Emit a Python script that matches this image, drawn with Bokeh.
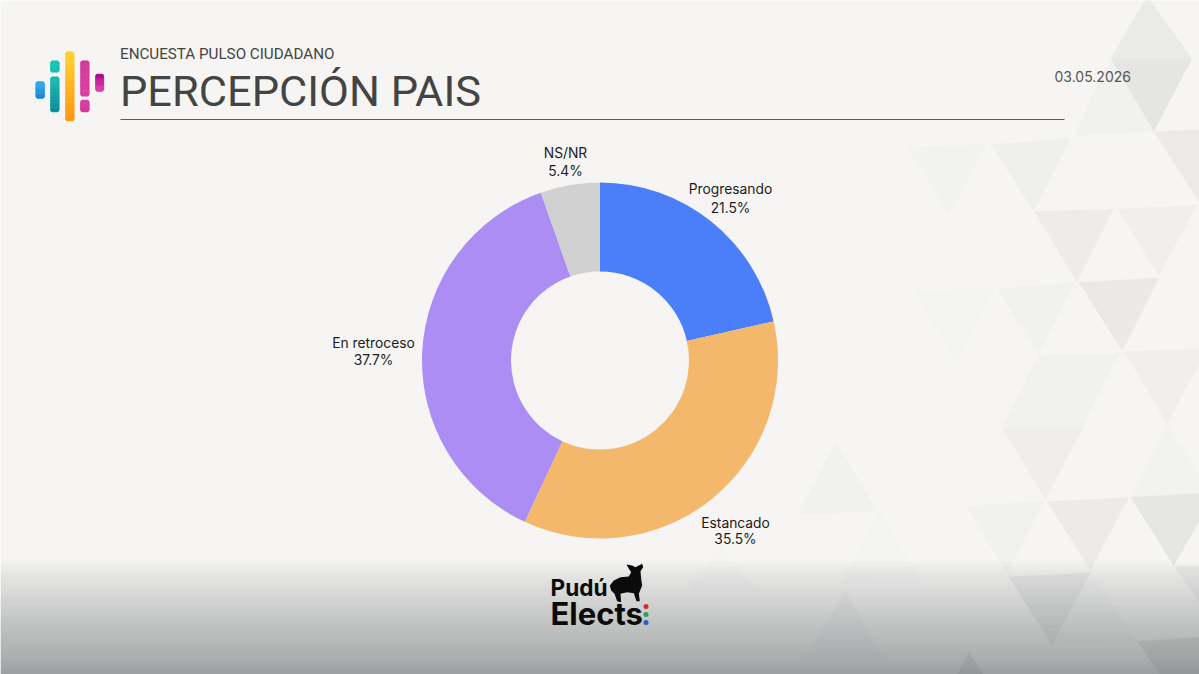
from bokeh.plotting import figure
from bokeh.models import ColumnDataSource, Range1d
from bokeh.core.properties import value
from bokeh.embed import file_html
from bokeh.resources import INLINE
import numpy as np

categories = ["Progresando", "Estancado", "En retroceso", "NS/NR"]
percentages = [21.5, 35.5, 37.7, 5.4]
slice_colors = ["#4a7ff9", "#f4b86d", "#ab8df4", "#d1d1d1"]

title = "PERCEPCIÓN PAIS"
subtitle = "ENCUESTA PULSO CIUDADANO"
date_label = "03.05.2026"

# label layout, in page pixels
label_x = [730, 735, 373, 565]
name_y = [188, 522, 342, 152]
pct_y = [207, 538, 359, 170]

BG = "#f6f5f3"
WIDTH, HEIGHT = 1199, 674


# all layout below is in page pixels, y counted from the top
def Y(py):
    return 674 - np.asarray(py, dtype=float)


p = figure(width=WIDTH, height=HEIGHT, x_range=Range1d(0, 1199), y_range=Range1d(0, 674),
           toolbar_location=None, output_backend="svg", min_border=0,
           background_fill_color=BG, border_fill_color=BG)
p.axis.visible = False
p.grid.visible = False
p.outline_line_color = None


def zx(v):
    return 880 + v / 3


def zy(v):
    return v * 0.43


def poly(points, color):
    xs = [zx(a) for a, b in points]
    ys = [Y(zy(b)) for a, b in points]
    p.patch(xs, ys, fill_color=color, line_color=None)


poly([(800, -10), (690, 135), (935, 135)], "#eaeae8")
poly([(690, 135), (935, 135), (820, 305)], "#e5e5e3")
poly([(580, 315), (690, 135), (820, 305)], "#f1f1ef")
poly([(80, 340), (320, 335), (205, 500)], "#f2f2f0")
poly([(330, 335), (570, 320), (460, 490)], "#efefed")
poly([(820, 305), (957, 300), (957, 470)], "#ebeae8")
poly([(460, 490), (700, 485), (590, 655)], "#eeecea")
poly([(710, 485), (950, 475), (835, 640)], "#f0efed")
poly([(100, 675), (340, 670), (225, 840)], "#f3f3f1")
poly([(350, 670), (585, 655), (475, 825)], "#f1f1ef")
poly([(595, 655), (835, 645), (725, 815)], "#ebe9e7")
poly([(475, 825), (720, 820), (610, 990), (365, 995)], "#f1f1ef")
poly([(365, 995), (610, 990), (495, 1160)], "#f0eeec")
poly([(730, 815), (957, 810), (957, 845), (860, 985)], "#f0efed")
poly([(860, 985), (957, 1100), (957, 1145), (750, 1155)], "#f2f2f0")
poly([(255, 1175), (490, 1165), (380, 1335)], "#f1f1ef")
poly([(500, 1165), (745, 1155), (630, 1325)], "#ecebe9")
poly([(750, 1155), (957, 1145), (957, 1210), (880, 1315)], "#e6e6e4")
poly([(385, 1340), (630, 1330), (515, 1500)], "#e8e8e6")
poly([(880, 1315), (957, 1315), (957, 1400)], "#ececea")
poly([(630, 1330), (770, 1490), (520, 1500)], "#f2f2f0")
poly([(770, 1490), (957, 1480), (957, 1568), (840, 1568)], "#e4e4e2")
poly([(265, 1515), (230, 1568), (310, 1568)], "#e4e4e2")
poly([(0, 1190), (120, 1345), (0, 1345)], "#f4f4f2")

# triangles lower down, centre of the page
p.patch([797, 835, 877], Y([514, 440, 511]), fill_color="#f1f1ef", line_color=None)
p.patch([877, 840, 920], Y([511, 583, 580]), fill_color="#f3f3f1", line_color=None)
p.patch([845, 805, 883], Y([590, 657, 657]), fill_color="#f0f0ef", line_color=None)
p.patch([720, 690, 755], Y([545, 590, 590]), fill_color="#f3f3f1", line_color=None)

# grey fade at the bottom of the page
fade_y = np.arange(556, 674, 1)
fade_a = np.interp(fade_y, [558, 570, 600, 630, 655, 674], [0, 0.07, 0.2, 0.33, 0.44, 0.56])
p.quad(left=0, right=1199, top=Y(fade_y), bottom=Y(fade_y + 1), fill_color="#3a4448",
       fill_alpha=fade_a, line_color=None)

# donut
fractions = np.array(percentages) / sum(percentages)
ends = np.cumsum(fractions)
starts = ends - fractions
source = ColumnDataSource(data=dict(
    category=categories,
    start=np.pi / 2 - 2 * np.pi * starts,
    end=np.pi / 2 - 2 * np.pi * ends,
    color=slice_colors,
))
p.annular_wedge(x=599.5, y=Y(360), inner_radius=89, outer_radius=178, start_angle="start",
                end_angle="end", direction="clock", fill_color="color", line_color=None,
                source=source)

labels = ColumnDataSource(data=dict(
    x=label_x,
    name_y=Y(name_y),
    pct_y=Y(pct_y),
    name=categories,
    pct=[f"{v}%" for v in percentages],
))
for col, txt in (("name_y", "name"), ("pct_y", "pct")):
    p.text(x="x", y=col, text=txt, source=labels, text_align="center", text_baseline="middle",
           text_font=value("Inter"), text_font_size="13.8px", text_color="#1c1c1c")


# header logo: rounded bars with a vertical colour fade
def hex_rgb(c):
    return np.array([int(c[i:i + 2], 16) for i in (1, 3, 5)], dtype=float)


def bar(x0, x1, y0, y1, c0, c1, n=12):
    edges = np.linspace(y0 + 2, y1 - 2, n + 1)
    cols = []
    for t in np.linspace(0, 1, n):
        rgb = hex_rgb(c0) * (1 - t) + hex_rgb(c1) * t
        cols.append("#%02x%02x%02x" % tuple(int(v) for v in rgb))
    # squared-off ends with a small radius
    p.quad(left=x0 + 2, right=x1 - 2, top=Y([y0, y1 - 2.2]), bottom=Y([y0 + 2.2, y1]),
           fill_color=[c0, c1], line_color=None)
    cx = [x0 + 2, x1 - 2, x0 + 2, x1 - 2]
    cy = [y0 + 2, y0 + 2, y1 - 2, y1 - 2]
    p.circle(x=cx, y=Y(cy), radius=2, fill_color=[c0, c0, c1, c1], line_color=None)
    # slices drawn from the bottom up, each reaching under the one above
    p.quad(left=x0, right=x1, top=Y(edges[:-1][::-1]), bottom=Y(edges[1:][::-1]),
           fill_color=cols[::-1], line_color=cols[::-1], line_width=0.6)


bar(35.3, 44, 80.7, 98.3, "#2fa8ea", "#1c88d0")
bar(50, 58.7, 60, 72, "#1cc6b4", "#18bfb0")
bar(50, 58.7, 76, 111.7, "#1ab8b0", "#0f8f9e")
bar(65, 73.7, 51, 120.7, "#ffd030", "#ff9a12")
bar(80, 88.7, 60, 96, "#d23b9c", "#d83fa0")
bar(80, 88.7, 99.3, 111.7, "#d83fa0", "#d23b9c")
bar(95, 103.3, 73.3, 91.3, "#ad0f8e", "#de42a2")

# header texts
p.text(x=[119.5], y=Y([53]), text=[subtitle], text_baseline="middle", text_font=value("Roboto"),
       text_font_size="15.2px", text_color="#444444")
p.text(x=[119.5], y=Y([91]), text=[title], text_baseline="middle", text_font=value("Roboto"),
       text_font_size="43.4px", text_color="#444444")
p.text(x=[1054], y=Y([76]), text=[date_label], text_baseline="middle", text_font=value("Inter"),
       text_font_size="14px", text_color="#555555")
p.segment(x0=[120], y0=Y([119]), x1=[1064], y1=Y([119]), line_color="#5a5a5a", line_width=1)

# brand mark at the bottom
p.text(x=[550], y=Y([587]), text=["Pudú"], text_baseline="middle", text_font=value("Inter"),
       text_font_style="bold", text_font_size="22.6px", text_color="#0b0b0b")
p.text(x=[550], y=Y([613]), text=["Elects"], text_baseline="middle", text_font=value("Inter"),
       text_font_style="bold", text_font_size="31px", text_color="#0b0b0b")
sheep = [(318, 42), (335, 45), (345, 50), (365, 40), (368, 50), (360, 62), (362, 85), (365, 105),
         (355, 130), (358, 152), (348, 152), (340, 128), (320, 125), (300, 130), (302, 155),
         (290, 152), (282, 130), (272, 120), (268, 105), (280, 90), (300, 80), (325, 78),
         (332, 65), (325, 55)]
p.patch([520 + a / 3 for a, b in sheep], Y([550 + b / 3 for a, b in sheep]), fill_color="#0b0b0b",
        line_color=None)
p.circle(x=[645.5, 645.5, 645.5], y=Y([606, 614, 622]), radius=2.5,
         fill_color=["#c9302c", "#2f9e4f", "#1f5fc4"], line_color=None)

open("out.html", "w").write(file_html(p, INLINE))
